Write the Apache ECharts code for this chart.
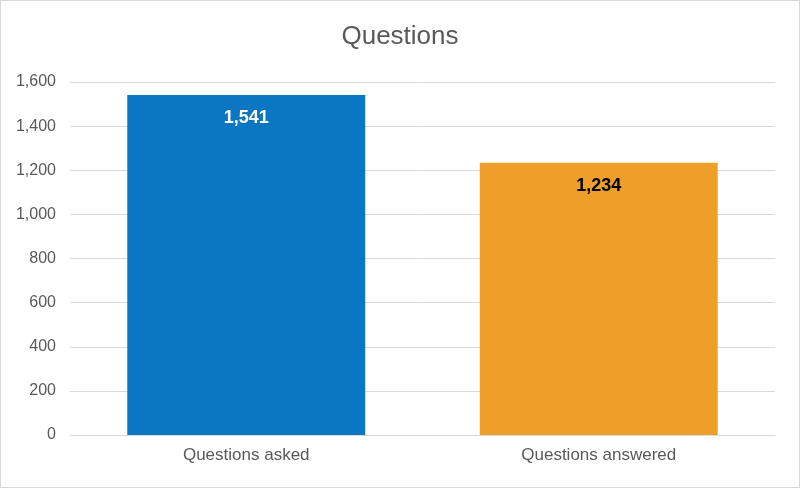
<!DOCTYPE html>
<html><head><meta charset="utf-8">
<script src="https://cdn.jsdelivr.net/npm/echarts@6/dist/echarts.min.js"></script>
<style>html,body{margin:0;padding:0;background:#fff}#c{width:798px;height:486px;border:1px solid #d9d9d9}</style>
</head><body><div id="c"></div>
<script>
const categories=["Questions asked","Questions answered"];
const values=[1541,1234];
const colors=["#0B77C2","#EE9F2A"];
const labelColors=["#ffffff","#000000"];
const chart=echarts.init(document.getElementById('c'));
chart.setOption({
  animation:false,
  title:{text:"Questions",left:"center",top:18,textStyle:{fontFamily:"Liberation Sans",fontSize:26,fontWeight:"normal",color:"#595959"}},
  grid:{left:69,right:24,top:81,bottom:52},
  xAxis:{type:"category",data:categories,axisTick:{show:false},axisLine:{lineStyle:{color:"#d9d9d9"}},
    axisLabel:{fontFamily:"Liberation Sans",fontSize:17,color:"#595959",margin:12}},
  yAxis:{type:"value",min:0,max:1600,interval:200,axisLabel:{fontFamily:"Liberation Sans",fontSize:16,color:"#595959",margin:14,
    formatter:v=>v.toLocaleString("en-US")},splitLine:{lineStyle:{color:"#d9d9d9"}}},
  series:[{type:"bar",barWidth:"67.5%",
    data:values.map((v,i)=>({value:v,itemStyle:{color:colors[i]},
      label:{show:true,position:"insideTop",distance:14,color:labelColors[i],fontFamily:"Liberation Sans",fontWeight:"bold",fontSize:18,
        formatter:p=>p.value.toLocaleString("en-US")}}))}]
});
</script></body></html>
